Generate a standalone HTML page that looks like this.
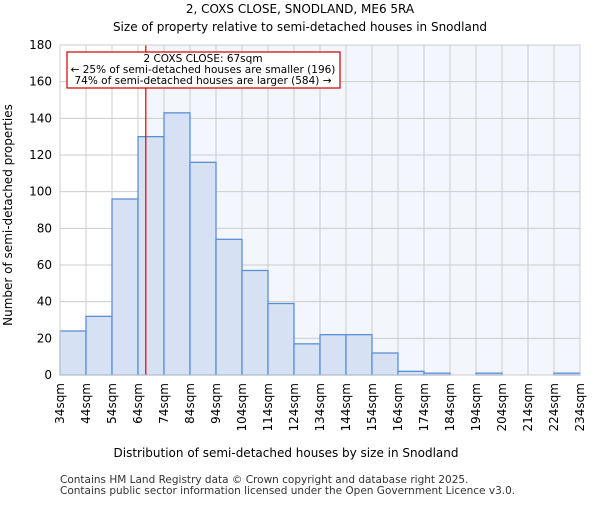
<!DOCTYPE html>
<html><head><meta charset="utf-8"><style>body{margin:0;background:#fff}svg{font-family:"DejaVu Sans","Liberation Sans",sans-serif}</style></head>
<body>
<svg id="c" width="600" height="500" xmlns="http://www.w3.org/2000/svg">
<text x="300" y="13" text-anchor="middle" font-size="12">2, COXS CLOSE, SNODLAND, ME6 5RA</text>
<text x="300" y="31" text-anchor="middle" font-size="12">Size of property relative to semi-detached houses in Snodland</text>
<g id="plot"></g>
<text x="286" y="457" text-anchor="middle" font-size="12">Distribution of semi-detached houses by size in Snodland</text>
<text transform="translate(12,215) rotate(-90)" text-anchor="middle" font-size="12">Number of semi-detached properties</text>
<text x="60" y="483" font-size="10.5" fill="#333">Contains HM Land Registry data © Crown copyright and database right 2025.</text>
<text x="60" y="494" font-size="10.5" fill="#333">Contains public sector information licensed under the Open Government Licence v3.0.</text>
</svg>
<script>
const binStarts=[34,44,54,64,74,84,94,104,114,124,134,144,154,164,174,184,194,204,214,224];
const counts=[24,32,96,130,143,116,74,57,39,17,22,22,12,2,1,0,1,0,0,1];
const yTicks=[0,20,40,60,80,100,120,140,160,180];
const xLabels=["34sqm","44sqm","54sqm","64sqm","74sqm","84sqm","94sqm","104sqm","114sqm","124sqm","134sqm","144sqm","154sqm","164sqm","174sqm","184sqm","194sqm","204sqm","214sqm","224sqm","234sqm"];
const marker=67;
const L=60,R=580,T=45,B=375,xmin=34,xmax=234,ymax=180;
const X=v=>L+(v-xmin)/(xmax-xmin)*(R-L);
const Y=v=>B-v/ymax*(B-T);
const NS="http://www.w3.org/2000/svg";
const g=document.getElementById('plot');
function mk(t,a){const e=document.createElementNS(NS,t);for(const k in a)e.setAttribute(k,a[k]);g.appendChild(e);return e;}
let e=mk('rect',{x:X(marker),y:T,width:R-X(marker),height:B-T,fill:'#f3f6fd'});


yTicks.forEach(v=>{let l=mk('line',{x1:L,x2:R,y1:Y(v),y2:Y(v),stroke:'#ccc'});


let t=mk('text',{x:L-8,y:Y(v)+4,'text-anchor':'end','font-size':12});t.textContent=v;

});
xLabels.forEach((s,i)=>{const v=xmin+i*10;let l=mk('line',{x1:X(v),x2:X(v),y1:T,y2:B,stroke:'#ccc'});


let t=mk('text',{transform:`translate(${X(v)+4},${B+8}) rotate(-90)`,'text-anchor':'end','font-size':12});t.textContent=s;

});
counts.forEach((c,i)=>{if(c<=0)return;const x0=X(binStarts[i]),x1=X(binStarts[i]+10);
let r=mk('rect',{x:x0,y:Y(c),width:x1-x0,height:B-Y(c),fill:'#d6e2f4',stroke:'#5a8fd6','stroke-width':1.3});

});
let ml=mk('line',{x1:X(marker),x2:X(marker),y1:T,y2:B,stroke:'#d00','stroke-width':1.2});


let bx=mk('rect',{x:67,y:52,width:273,height:36,fill:'#fff',stroke:'#c00','stroke-width':1.2});


["2 COXS CLOSE: 67sqm","← 25% of semi-detached houses are smaller (196)","74% of semi-detached houses are larger (584) →"].forEach((s,i)=>{
let t=mk('text',{x:203,y:62+i*11,'text-anchor':'middle','font-size':10.5});t.textContent=s;

});
let ax=mk('rect',{x:L,y:T,width:R-L,height:B-T,fill:'none',stroke:'#ccc'});


</script>
</body></html>
